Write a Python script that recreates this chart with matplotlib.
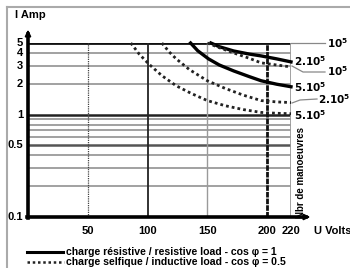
import matplotlib
matplotlib.use("Agg")
import matplotlib.pyplot as plt
from matplotlib.lines import Line2D

plt.rcParams['font.family'] = ['Liberation Sans', 'DejaVu Sans']

# grid values
y_ticks = [5, 4, 3, 2, 1, 0.5, 0.1]
y_tick_labels = ["5", "4", "3", "2", "1", "0.5", "0.1"]
y_grid = [4, 3, 2, 0.9, 0.8, 0.7, 0.6, 0.4, 0.3, 0.2]
x_ticks = [50, 100, 150, 200, 220]

# resistive load (solid)
res_2e5_v = [153, 160, 172, 185, 195, 208, 220]
res_2e5_i = [5, 4.6, 4.18, 3.9, 3.74, 3.5, 3.27]
res_5e5_v = [136, 142, 151, 160, 172, 185, 195, 208, 220]
res_5e5_i = [5, 4.2, 3.5, 3.05, 2.67, 2.35, 2.14, 1.98, 1.87]

# inductive load (dotted)
ind_1e5_v = [150, 160, 172, 185, 195, 208, 220]
ind_1e5_i = [5, 4.5, 4.0, 3.55, 3.2, 3.05, 2.92]
ind_2e5_v = [112, 118, 124, 135, 150, 165, 180, 195, 208, 220]
ind_2e5_i = [5, 4.1, 3.5, 2.75, 2.14, 1.8, 1.55, 1.37, 1.33, 1.31]
ind_5e5_v = [86, 93, 101, 112, 124, 137, 150, 165, 180, 195, 208, 220]
ind_5e5_i = [5, 3.9, 3.12, 2.4, 1.91, 1.6, 1.37, 1.22, 1.12, 1.05, 1.03, 1.02]

W, H = 350, 268

def fx(x):
    return x / W

def fy(y):
    return 1 - y / H

fig = plt.figure(figsize=(3.5, 2.68), dpi=100)
ax = fig.add_axes([fx(28), fy(217), fx(291) - fx(28), fy(43) - fy(217)])
ax.set_yscale("log")
ax.set_xlim(0, 220)
ax.set_ylim(0.1, 5)
ax.axis("off")

# horizontal grid
for g in y_grid:
    ax.plot([0, 220], [g, g], color="#9a9a9a", lw=1.3, solid_capstyle="butt")
ax.plot([0, 220], [0.5, 0.5], color="#555555", lw=1.8, solid_capstyle="butt")
ax.plot([0, 220], [1, 1], color="#222222", lw=1.8, solid_capstyle="butt")
ax.plot([0, 220], [5, 5], color="#111111", lw=2.0, solid_capstyle="butt")

# vertical grid
ax.plot([50, 50], [0.1, 5], color="#444444", lw=0.9, ls=(0, (1, 0.8)))
ax.plot([100, 100], [0.1, 5], color="#222222", lw=1.3)
ax.plot([150, 150], [0.1, 5], color="#9a9a9a", lw=1.0)
ax.plot([200, 200], [0.1, 5], color="#111111", lw=2.0, ls=(0, (2, 0.4)))
ax.plot([220, 220], [0.1, 5], color="#9a9a9a", lw=1.3)

# curves
ax.plot(res_2e5_v, res_2e5_i, color="black", lw=2.4, clip_on=False)
ax.plot(res_5e5_v, res_5e5_i, color="black", lw=2.4, clip_on=False)
dots = (0, (1, 1.1))
ax.plot(ind_1e5_v, ind_1e5_i, color="#222222", lw=2.0, ls=dots, clip_on=False)
ax.plot(ind_2e5_v, ind_2e5_i, color="#222222", lw=2.0, ls=dots, clip_on=False)
ax.plot(ind_5e5_v, ind_5e5_i, color="#222222", lw=2.0, ls=dots, clip_on=False)

# page frame
fig.add_artist(Line2D([fx(7), fx(7)], [fy(7), 0], transform=fig.transFigure, color="#aaaaaa", lw=1.5))
fig.add_artist(Line2D([fx(7), 1], [fy(7), fy(7)], transform=fig.transFigure, color="#aaaaaa", lw=1.5))

# axes with arrows
fig.add_artist(Line2D([fx(28), fx(28)], [fy(218), fy(34)], transform=fig.transFigure, color="black", lw=2.6))
fig.add_artist(Line2D([fx(27), fx(306)], [fy(217), fy(217)], transform=fig.transFigure, color="black", lw=2.6))
ax.annotate("", xy=(fx(28), fy(27)), xytext=(fx(28), fy(36)), xycoords="figure fraction",
            arrowprops=dict(arrowstyle="-|>", color="black", lw=1.5, mutation_scale=8))
ax.annotate("", xy=(fx(313), fy(217)), xytext=(fx(304), fy(217)), xycoords="figure fraction",
            arrowprops=dict(arrowstyle="-|>", color="black", lw=1.5, mutation_scale=8))

# tick labels
for v, lab in zip(y_ticks, y_tick_labels):
    ax.text(-5 / 1.19, v, lab, ha="right", va="center", fontsize=8, fontweight="bold")
for v in x_ticks:
    ax.text(v, 0.1 / 10 ** (9 / 102.4), str(v), ha="center", va="top", fontsize=8,
            fontweight="bold", clip_on=False)
fig.text(fx(15), fy(15), "I Amp", ha="left", va="center", fontsize=8, fontweight="bold")
fig.text(fx(314), fy(231), "U Volts", ha="left", va="center", fontsize=8, fontweight="bold")
fig.text(fx(301), fy(173), "Nbr de manoeuvres", rotation=90, ha="center", va="center",
         fontsize=7, fontweight="bold")

# leaders and curve labels
lead = dict(transform=fig.transFigure, color="#888888", lw=0.9)
fig.add_artist(Line2D([fx(291), fx(325)], [fy(43), fy(43)], **lead))
fig.add_artist(Line2D([fx(292), fx(303), fx(325)], [fy(66), fy(72), fy(72)], **lead))
fig.add_artist(Line2D([fx(292), fx(300), fx(317)], [fy(103), fy(100), fy(99)], **lead))
lab = dict(ha="left", va="center", fontsize=7.5, fontweight="bold")
fig.text(fx(327), fy(43), r"$\mathbf{10^5}$", **lab)
fig.text(fx(294), fy(61), r"$\mathbf{2.10^5}$", **lab)
fig.text(fx(327), fy(71), r"$\mathbf{10^5}$", **lab)
fig.text(fx(294), fy(87), r"$\mathbf{5.10^5}$", **lab)
fig.text(fx(318), fy(99), r"$\mathbf{2.10^5}$", **lab)
fig.text(fx(294), fy(115), r"$\mathbf{5.10^5}$", **lab)

# legend
fig.add_artist(Line2D([fx(27), fx(63)], [fy(252), fy(252)], transform=fig.transFigure, color="black", lw=2.2))
fig.add_artist(Line2D([fx(27), fx(64)], [fy(262), fy(262)], transform=fig.transFigure, color="#222222", lw=1.8, ls=dots))
fig.text(fx(66), fy(252), "charge résistive / resistive load - cos φ = 1", ha="left", va="center",
         fontsize=7.6, fontweight="bold")
fig.text(fx(66), fy(262), "charge selfique / inductive load - cos φ = 0.5", ha="left", va="center",
         fontsize=7.6, fontweight="bold")

fig.savefig("out.png", dpi=100)
